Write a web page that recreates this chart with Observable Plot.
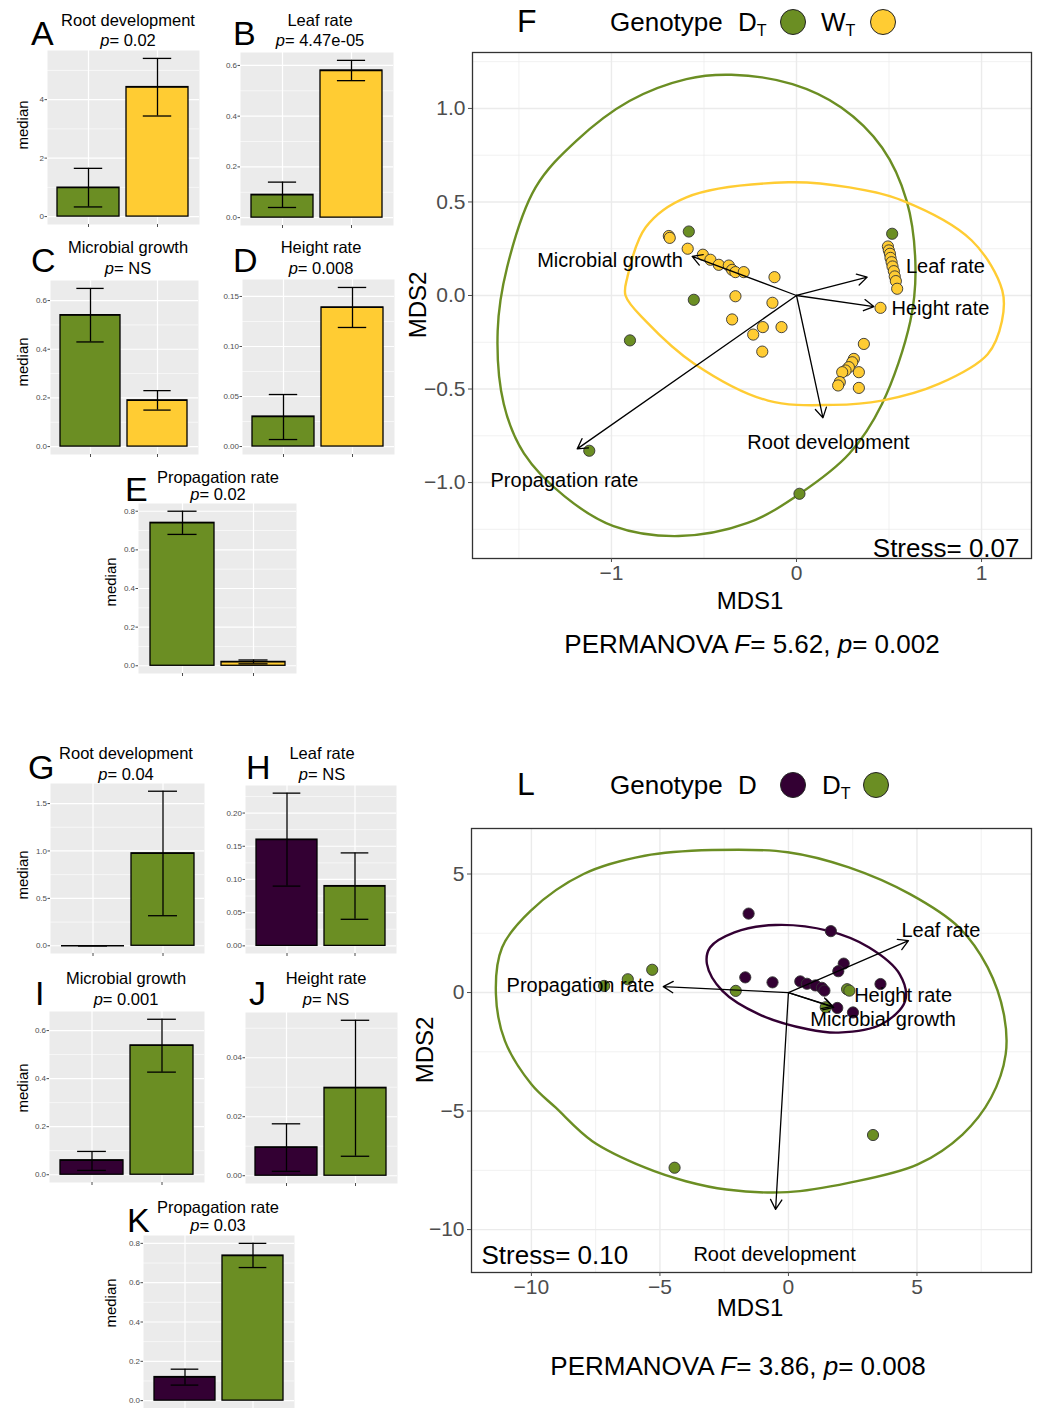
<!DOCTYPE html>
<html><head><meta charset="utf-8">
<script src="https://cdn.jsdelivr.net/npm/d3@7"></script>
<script src="https://cdn.jsdelivr.net/npm/@observablehq/plot@0.6"></script>
<style>
body{margin:0;background:#fff;}
#fig{position:relative;width:1040px;height:1408px;overflow:hidden;font-family:"Liberation Sans",Arial,Helvetica,sans-serif;background:#fff;color:#000;}
.abs{position:absolute;white-space:nowrap;line-height:1;}
.abs sub{font-size:62%;vertical-align:-0.3em;line-height:0;}
.pl{position:absolute;}
.dotl{position:absolute;border-radius:50%;border:1.5px solid #222;box-sizing:border-box;}
</style></head><body><div id="fig"></div>
<script>
// ---------------- DATA ----------------
const traits = ["Root development","Leaf rate","Microbial growth","Height rate","Propagation rate"];
// Comparison 1 (panels A-E): D_T vs W_T
const cmp1Genotypes = ["DT","WT"];
const cmp1Median = [[0.99,4.43],[0.09,0.58],[0.54,0.19],[0.030,0.139],[0.74,0.02]];
const cmp1Low    = [[0.33,3.44],[0.04,0.54],[0.43,0.15],[0.007,0.119],[0.68,0.01]];
const cmp1High   = [[1.65,5.41],[0.14,0.62],[0.65,0.23],[0.052,0.159],[0.80,0.03]];
const cmp1P      = ["0.02","4.47e-05","NS","0.008","0.02"];
const cmp1Ticks  = [[0,2,4],[0,0.2,0.4,0.6],[0,0.2,0.4,0.6],[0,0.05,0.10,0.15],[0,0.2,0.4,0.6,0.8]];
const cmp1Fmt    = ["d",".1f",".1f",".2f",".1f"];
const cmp1Letters = ["A","B","C","D","E"];
// Comparison 2 (panels G-K): D vs D_T
const cmp2Genotypes = ["D","DT"];
const cmp2Median = [[0,0.975],[0.16,0.09],[0.06,0.538],[0.0096,0.0298],[0.12,0.738]];
const cmp2Low    = [[0,0.317],[0.09,0.04],[0.018,0.427],[0.0015,0.0066],[0.079,0.677]];
const cmp2High   = [[0,1.63],[0.23,0.14],[0.097,0.647],[0.0176,0.0527],[0.16,0.80]];
const cmp2P      = ["0.04","NS","0.001","NS","0.03"];
const cmp2Ticks  = [[0,0.5,1.0,1.5],[0,0.05,0.10,0.15,0.20],[0,0.2,0.4,0.6],[0,0.02,0.04],[0,0.2,0.4,0.6,0.8]];
const cmp2Fmt    = [".1f",".2f",".1f",".2f",".1f"];
const cmp2Letters = ["G","H","I","J","K"];

const genoColors = {DT:"#6B8E23", WT:"#FFCC33", D:"#330033"};

// NMDS F: D_T vs W_T
const fDTx = [-0.582,-0.555,-0.90,0.517,-1.12,0.016];
const fDTy = [0.342,-0.023,-0.24,0.33,-0.83,-1.06];
const fWTx = [-0.69,-0.685,-0.588,-0.506,-0.465,-0.42,-0.366,-0.348,-0.33,-0.285,-0.119,-0.33,-0.13,-0.348,-0.182,-0.081,-0.234,-0.185,
  0.494,0.499,0.505,0.508,0.514,0.519,0.526,0.531,0.537,0.544,0.454,
  0.364,0.31,0.301,0.283,0.265,0.247,0.337,0.234,0.225,0.337];
const fWTy = [0.318,0.308,0.25,0.218,0.191,0.164,0.16,0.137,0.125,0.125,0.098,-0.004,-0.039,-0.128,-0.169,-0.169,-0.209,-0.30,
  0.262,0.241,0.223,0.201,0.178,0.155,0.13,0.102,0.077,0.036,-0.066,
  -0.259,-0.339,-0.357,-0.383,-0.401,-0.41,-0.41,-0.463,-0.481,-0.494];
const fVecName = ["Microbial growth","Leaf rate","Height rate","Root development","Propagation rate"];
const fVecX = [-0.564,0.382,0.418,0.143,-1.185];
const fVecY = [0.209,0.098,-0.059,-0.654,-0.82];
const fLabX = [-1.008,0.805,0.778,0.173,-1.254];
const fLabY = [0.187,0.155,-0.07,-0.786,-0.99];
const fEllDTx = [-0.352,-0.022,0.242,0.463,0.595,0.643,0.615,0.462,0.286,0.022,-0.264,-0.637,-0.989,-1.253,-1.473,-1.582,-1.615,-1.564,-1.41,-1.19,-0.903,-0.595];
const fEllDTy = [1.18,1.13,1.005,0.79,0.507,0.151,-0.138,-0.58,-0.845,-1.057,-1.216,-1.286,-1.233,-1.074,-0.844,-0.58,-0.19,0.151,0.578,0.827,1.04,1.157];
const fEllWTx = [-0.044,0.286,0.573,0.947,1.112,1.11,1.033,0.769,0.462,0.198,-0.154,-0.549,-0.813,-0.924,-0.914,-0.815,-0.595];
const fEllWTy = [0.605,0.578,0.507,0.294,0.027,-0.138,-0.314,-0.473,-0.562,-0.585,-0.562,-0.367,-0.138,0.0,0.098,0.365,0.525];
const fStress = "0.07", fF = "5.62", fP = "0.002";

// NMDS L: D vs D_T
const lDx = [-1.55,1.65,2.15,1.94,-1.68,-0.62,0.46,0.72,1.05,1.30,1.40,3.58,1.90,2.51];
const lDy = [3.33,2.59,1.22,0.90,0.64,0.43,0.47,0.37,0.30,0.20,0.08,0.36,-0.65,-0.84];
const lDTx = [-7.17,-6.25,-5.30,-2.05,2.28,2.37,1.45,-4.43,3.29];
const lDTy = [0.28,0.56,0.96,0.07,0.14,0.08,-0.62,-7.39,-6.01];
const lVecName = ["Leaf rate","Propagation rate","Height rate","Microbial growth","Root development"];
const lVecX = [4.67,-4.87,1.70,1.76,-0.50];
const lVecY = [2.19,0.25,-0.58,-0.63,-9.15];
const lLabX = [5.93,-8.09,4.46,3.68,-0.54];
const lLabY = [2.62,0.30,-0.13,-1.14,-11.05];
const lEllDx = [-0.51,1.56,3.14,4.33,4.54,3.62,1.95,0.76,-1.14,-2.57,-3.17,-3.05,-2.10];
const lEllDy = [2.85,2.60,1.90,0.77,-0.35,-1.34,-1.69,-1.55,-0.92,0.07,1.20,1.90,2.54];
const lEllDTx = [-2.97,-0.03,2.35,4.73,6.63,7.75,8.38,8.45,7.88,6.77,5.03,2.34,-0.03,-2.41,-3.99,-5.57,-7.63,-9.05,-10.0,-11.03,-11.38,-11.14,-10.03,-7.97,-5.59];
const lEllDTy = [6.01,5.92,5.28,4.15,2.75,1.06,-0.92,-2.61,-4.44,-5.99,-7.25,-8.03,-8.42,-8.31,-7.96,-7.39,-6.27,-4.86,-3.87,-2.04,-0.07,1.90,3.45,5.00,5.77];
const lStress = "0.10", lF = "3.86", lP = "0.008";

// ---------------- HELPERS ----------------
const fig = document.getElementById("fig");
const FONT = '"Liberation Sans", Arial, Helvetica, sans-serif';
function txt(html, x, y, size, anchor="middle", opt={}) {
  const d = document.createElement("div");
  d.className = "abs";
  d.innerHTML = html;
  d.style.fontSize = size + "px";
  d.style.left = x + "px"; d.style.top = y + "px";
  const tx = anchor === "middle" ? "-50%" : anchor === "end" ? "-100%" : "0";
  d.style.transform = `translate(${tx},-50%)` + (opt.rotate ? ` rotate(${opt.rotate}deg)` : "");
  if (opt.color) d.style.color = opt.color;
  fig.appendChild(d);
}
function place(node, x, y) {
  const d = document.createElement("div");
  d.className = "pl"; d.style.left = x + "px"; d.style.top = y + "px";
  d.appendChild(node); fig.appendChild(d);
}
function legendDot(cx, cy, color) {
  const d = document.createElement("div");
  d.className = "dotl";
  d.style.left = (cx - 13) + "px"; d.style.top = (cy - 13) + "px";
  d.style.width = "26px"; d.style.height = "26px"; d.style.background = color;
  fig.appendChild(d);
}

// ---------------- BAR PANELS ----------------
function barPanel(genos, med, lo, hi, ticks, fmt, rect) {
  const data = genos.map((g, j) => ({g, v: med[j], lo: lo[j], hi: hi[j]}));
  const top = d3.max(data, d => Math.max(d.v, d.hi));
  const pad = top * 0.05;
  const dom = [-pad, top + pad];
  const step = ticks[1] - ticks[0];
  const minor = ticks.map(t => t + step / 2).filter(t => t < dom[1]);
  const ML = 40, MB = 8;
  const bw = rect.w / 2.2 * 0.9;
  const cap = bw * 0.27;
  const svg = Plot.plot({
    width: rect.w + ML, height: rect.h + MB,
    marginLeft: ML, marginRight: 0, marginTop: 0, marginBottom: MB,
    style: {background: "transparent", fontFamily: FONT, overflow: "visible"},
    x: {domain: genos, paddingInner: 0.1, paddingOuter: 0.15, axis: null},
    y: {domain: dom, axis: null},
    color: {domain: genos, range: genos.map(g => genoColors[g])},
    marks: [
      Plot.frame({fill: "#ebebeb", stroke: null}),
      Plot.ruleY(minor, {stroke: "#fff", strokeWidth: 0.6}),
      Plot.ruleY(ticks, {stroke: "#fff", strokeWidth: 1.2}),
      Plot.ruleX(genos, {x: d => d, stroke: "#fff", strokeWidth: 1.2}),
      Plot.barY(data, {x: "g", y: "v", fill: "g", stroke: "#000", strokeWidth: 1.3}),
      Plot.tickY(data, {x: "g", y: "v", stroke: "#000", strokeWidth: 1.3}),
      Plot.ruleX(data, {x: "g", y1: "lo", y2: "hi", stroke: "#000", strokeWidth: 1.3}),
      Plot.tickY(data, {x: "g", y: "lo", insetLeft: cap, insetRight: cap, stroke: "#000", strokeWidth: 1.3}),
      Plot.tickY(data, {x: "g", y: "hi", insetLeft: cap, insetRight: cap, stroke: "#000", strokeWidth: 1.3}),
      Plot.axisY({ticks, tickFormat: d3.format(fmt), fontSize: 8, tickSize: 2.5, tickPadding: 1, color: "#4d4d4d", label: null}),
      Plot.axisX({tickFormat: () => "", tickSize: 3, color: "#4d4d4d", label: null})
    ]
  });
  place(svg, rect.x - ML, rect.y);
}

const rects1 = [{x:47,y:50,w:152,h:174},{x:240,y:52,w:153,h:173},{x:50,y:280,w:148,h:174},{x:242,y:279,w:152,h:175},{x:138,y:503,w:158,h:170}];
const rects2 = [{x:50,y:783,w:154,h:170},{x:245,y:785,w:151,h:168},{x:49,y:1011,w:155,h:171},{x:245,y:1012,w:152,h:171},{x:143,y:1235,w:151,h:173}];
const titles1 = [{lx:31,ly:33,cx:128,y1:20,y2:40},{lx:233,ly:33,cx:320,y1:20,y2:40},{lx:31,ly:260,cx:128,y1:247,y2:268},{lx:233,ly:260,cx:321,y1:247,y2:268},{lx:125,ly:489,cx:218,y1:477,y2:494}];
const titles2 = [{lx:28,ly:767,cx:126,y1:753,y2:774},{lx:246,ly:767,cx:322,y1:753,y2:774},{lx:35,ly:993,cx:126,y1:978,y2:999},{lx:249,ly:993,cx:326,y1:978,y2:999},{lx:127,ly:1220,cx:218,y1:1207,y2:1225}];
const medianPos = [[22,125],[22,362],[110,582],[22,875],[22,1088],[110,1303]];

for (let i = 0; i < 5; i++) {
  barPanel(cmp1Genotypes, cmp1Median[i], cmp1Low[i], cmp1High[i], cmp1Ticks[i], cmp1Fmt[i], rects1[i]);
  barPanel(cmp2Genotypes, cmp2Median[i], cmp2Low[i], cmp2High[i], cmp2Ticks[i], cmp2Fmt[i], rects2[i]);
  const t1 = titles1[i], t2 = titles2[i];
  txt(cmp1Letters[i], t1.lx, t1.ly, 34, "start");
  txt(traits[i], t1.cx, t1.y1, 16.5);
  txt(`<i>p</i>= ${cmp1P[i]}`, t1.cx, t1.y2, 16.5);
  txt(cmp2Letters[i], t2.lx, t2.ly, 34, "start");
  txt(traits[i], t2.cx, t2.y1, 16.5);
  txt(`<i>p</i>= ${cmp2P[i]}`, t2.cx, t2.y2, 16.5);
}
for (const [x, y] of medianPos) txt("median", x, y, 15, "middle", {rotate: -90});

// ---------------- NMDS PANELS ----------------
function nmds(o) {
  const pts = [];
  o.groups.forEach((g, k) => o.px[k].forEach((x, j) => pts.push({g, x, y: o.py[k][j]})));
  const ell = [];
  o.groups.forEach((g, k) => o.ex[k].forEach((x, j) => ell.push({g, x, y: o.ey[k][j]})));
  const vec = o.vn.map((n, j) => ({n, x: o.vx[j], y: o.vy[j], lx: o.lx[j], ly: o.ly[j]}));
  const svg = Plot.plot({
    width: o.w, height: o.h, marginLeft: o.ml, marginTop: o.mt, marginRight: o.mr, marginBottom: o.mb,
    style: {background: "transparent", fontFamily: FONT, overflow: "visible"},
    x: {domain: o.xdom}, y: {domain: o.ydom},
    color: {domain: o.groups, range: o.groups.map(g => genoColors[g])},
    marks: [
      Plot.ruleX(o.minX, {stroke: "#ebebeb", strokeWidth: 0.7}),
      Plot.ruleY(o.minY, {stroke: "#ebebeb", strokeWidth: 0.7}),
      Plot.ruleX(o.majX, {stroke: "#ebebeb", strokeWidth: 1.4}),
      Plot.ruleY(o.majY, {stroke: "#ebebeb", strokeWidth: 1.4}),
      Plot.line(ell, {x: "x", y: "y", z: "g", stroke: "g", strokeWidth: 2.4, curve: "catmull-rom-closed"}),
      Plot.dot(pts, {x: "x", y: "y", fill: "g", r: 5.6, stroke: "#333", strokeWidth: 0.9}),
      Plot.arrow(vec, {x1: () => 0, y1: () => 0, x2: "x", y2: "y", stroke: "#000", strokeWidth: 1.3, headLength: 13}),
      Plot.text(vec, {x: "lx", y: "ly", text: "n", fontSize: 20, fill: "#000"}),
      Plot.text([`Stress= ${o.stress}`], {text: d => d, frameAnchor: o.stressAnchor, dx: o.sdx, dy: o.sdy, fontSize: 26, fill: "#000"}),
      Plot.frame({stroke: "#333", strokeWidth: 1.3}),
      Plot.axisX({ticks: o.majX, tickFormat: d3.format("d"), tickSize: 4, tickPadding: 3, fontSize: 21, color: "#4d4d4d", label: null}),
      Plot.axisY({ticks: o.majY, tickFormat: o.yfmt, tickSize: 4, tickPadding: 3, fontSize: 21, color: "#4d4d4d", label: null})
    ]
  });
  place(svg, o.left, o.top);
}

nmds({
  groups: ["DT","WT"], px: [fDTx, fWTx], py: [fDTy, fWTy], ex: [fEllDTx, fEllWTx], ey: [fEllDTy, fEllWTy],
  vn: fVecName, vx: fVecX, vy: fVecY, lx: fLabX, ly: fLabY,
  xdom: [-1.751, 1.270], ydom: [-1.406, 1.299],
  majX: [-1, 0, 1], minX: [-1.5, -0.5, 0.5],
  majY: [-1, -0.5, 0, 0.5, 1], minY: [-1.25, -0.75, -0.25, 0.25, 0.75, 1.25],
  yfmt: d3.format(".1f"), stress: fStress, stressAnchor: "bottom-right", sdx: -12, sdy: -2,
  left: 400, top: 40, w: 640, h: 580, ml: 72, mt: 12, mr: 9, mb: 62
});
nmds({
  groups: ["D","DT"], px: [lDx, lDTx], py: [lDy, lDTy], ex: [lEllDx, lEllDTx], ey: [lEllDy, lEllDTy],
  vn: lVecName, vx: lVecX, vy: lVecY, lx: lLabX, ly: lLabY,
  xdom: [-12.33, 9.455], ydom: [-11.81, 6.92],
  majX: [-10, -5, 0, 5], minX: [-7.5, -2.5, 2.5, 7.5],
  majY: [-10, -5, 0, 5], minY: [-7.5, -2.5, 2.5],
  yfmt: d3.format("d"), stress: lStress, stressAnchor: "bottom-left", sdx: 10, sdy: -9,
  left: 400, top: 815, w: 640, h: 502, ml: 71, mt: 13, mr: 9, mb: 45
});

// Legends, axis titles, captions
txt("F", 517, 21, 32, "start");
txt("Genotype", 610, 22, 26, "start");
txt("D<sub>T</sub>", 738, 22, 26, "start");
legendDot(793, 22, genoColors.DT);
txt("W<sub>T</sub>", 821, 22, 26, "start");
legendDot(883, 22, genoColors.WT);
txt("MDS1", 750, 601, 24);
txt("MDS2", 418, 305, 24, "middle", {rotate: -90});
txt(`PERMANOVA <i>F</i>= ${fF}, <i>p</i>= ${fP}`, 752, 644, 26);

txt("L", 517, 784, 32, "start");
txt("Genotype", 610, 785, 26, "start");
txt("D", 738, 785, 26, "start");
legendDot(793, 785, genoColors.D);
txt("D<sub>T</sub>", 822, 785, 26, "start");
legendDot(876, 785, genoColors.DT);
txt("MDS1", 750, 1308, 24);
txt("MDS2", 425, 1050, 24, "middle", {rotate: -90});
txt(`PERMANOVA <i>F</i>= ${lF}, <i>p</i>= ${lP}`, 738, 1366, 26);
</script></body></html>
